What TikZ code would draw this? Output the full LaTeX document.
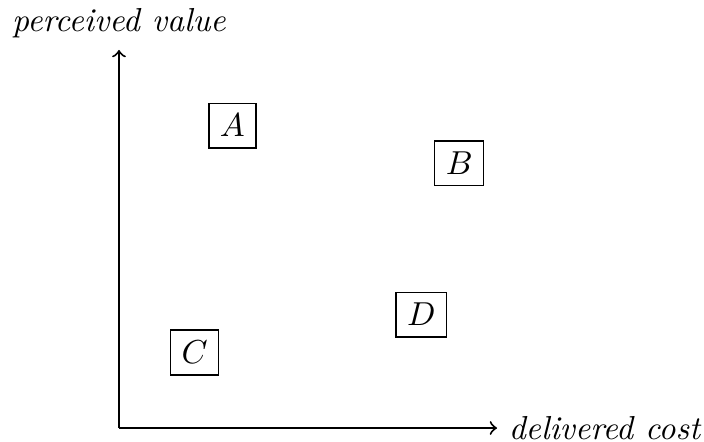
\documentclass[tikz,border=0pt]{standalone}
\usetikzlibrary{positioning}

\begin{document}
\begin{tikzpicture}[
    axis/.style={draw, ->, semithick},
    option/.style={rectangle, draw}
]
    \useasboundingbox (-1.259,-0.138) rectangle (6.19,4.529);

    % Axes
    \coordinate (origin) at (0,0);
    \node [above] (value) at (0,4) {\textit{perceived value}};
    \node [right] (cost) at (4,0) {\textit{delivered cost}};
    \path [axis] (origin) -- (value.south);
    \path [axis] (origin) -- (cost.west);

    % Options
    \node [option] (a) at (1.2,3.2) {$A$};
    \node [option] (b) at (3.6,2.8) {$B$};
    \node [option] (c) at (0.8,0.8) {$C$};
    \node [option] (d) at (3.2,1.2) {$D$};

\end{tikzpicture}
\end{document}
